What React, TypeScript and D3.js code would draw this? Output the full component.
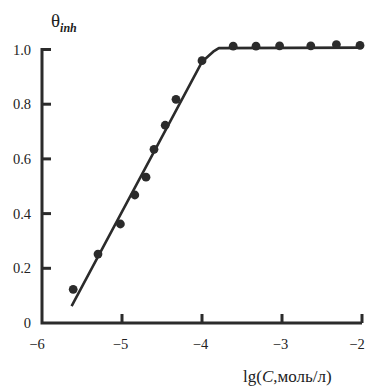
import React from "react";
import * as d3 from "d3";

const pointX = [-5.61, -5.30, -5.02, -4.84, -4.70, -4.60, -4.46, -4.325, -4.0, -3.61, -3.325, -3.03, -2.64, -2.32, -2.025];
const pointY = [0.123, 0.252, 0.362, 0.468, 0.533, 0.635, 0.723, 0.818, 0.959, 1.012, 1.012, 1.013, 1.013, 1.018, 1.015];
const lineX = [-5.63, -4.0, -3.86, -3.79, -2.0];
const lineY = [0.062, 0.955, 0.992, 1.005, 1.007];
const xTicks = [-6, -5, -4, -3, -2];
const xTickLabels = ["−6", "−5", "−4", "−3", "−2"];
const yTicks = [0, 0.2, 0.4, 0.6, 0.8, 1.0];
const yTickLabels = ["0", "0.2", "0.4", "0.6", "0.8", "1.0"];

export default function App() {
  const W = 383, H = 386;
  const x = d3.scaleLinear().domain([-6, -2]).range([42, 362]);
  const y = d3.scaleLinear().domain([0, 1]).range([323, 49.5]);
  const line = d3.line<number>().x((_, i) => x(lineX[i])).y((_, i) => y(lineY[i]));
  const col = "#2b2b2b";
  const font = "'Liberation Serif', 'Times New Roman', Times, serif";
  return (
    <svg width={W} height={H} style={{ position: "absolute", left: 0, top: 0, background: "#fff" }}>
      <path d={`M${x(-6)},${y(1.0) - 1.5}V${y(0)}H${x(-2)}`} fill="none" stroke={col} strokeWidth={3} strokeLinejoin="miter" />
      {yTicks.slice(1).map((t) => (
        <line key={t} x1={x(-6)} x2={x(-6) + 9} y1={y(t)} y2={y(t)} stroke={col} strokeWidth={3} />
      ))}
      {xTicks.slice(1).map((t) => (
        <line key={t} x1={x(t)} x2={x(t)} y1={y(0)} y2={y(0) - 9} stroke={col} strokeWidth={3} />
      ))}
      {yTicks.map((t, i) => (
        <text key={t} x={31} y={y(t) + 5} textAnchor="end" fontFamily={font} fontSize={14.5} fill="#222">
          {yTickLabels[i]}
        </text>
      ))}
      {xTicks.map((t, i) => (
        <text key={t} x={x(t) - (i === 0 || i === xTicks.length - 1 ? 5 : 1.5)} y={349} textAnchor="middle" fontFamily={font} fontSize={14.5} fill="#222">
          {xTickLabels[i]}
        </text>
      ))}
      <text x={243} y={382} fontFamily={font} fontSize={17} fill="#222">
        lg(<tspan fontStyle="italic">C</tspan>,моль/л)
      </text>
      <text x={51} y={27} fontFamily={font} fontSize={19} fill="#222">
        θ
        <tspan fontStyle="italic" fontWeight="bold" fontSize={12} dy={5}>inh</tspan>
      </text>
      <path d={line(lineX) || ""} fill="none" stroke={col} strokeWidth={2.6} strokeLinejoin="round" />
      {pointX.map((px, i) => (
        <circle key={i} cx={x(px)} cy={y(pointY[i])} r={4.4} fill={col} />
      ))}
    </svg>
  );
}
